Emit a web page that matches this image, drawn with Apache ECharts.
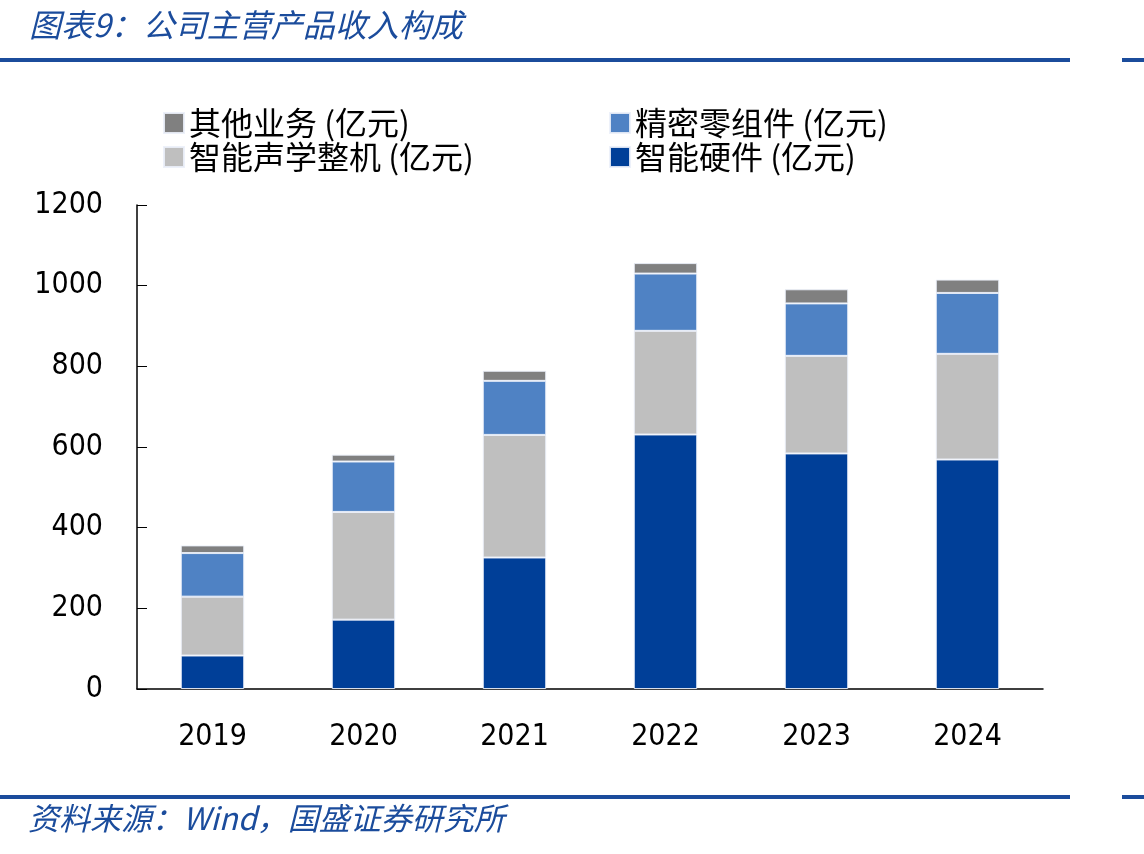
<!DOCTYPE html>
<html>
<head>
<meta charset="utf-8">
<script src="https://cdn.jsdelivr.net/npm/echarts@6/dist/echarts.min.js"></script>
<style>
  html, body { margin: 0; padding: 0; background: #fff; }
  #chart { width: 1144px; height: 854px; }
</style>
</head>
<body>
<div id="chart"></div>
<script>
// 年份
const years = ['2019', '2020', '2021', '2022', '2023', '2024'];
// 各业务收入 (亿元)
const hardware = [83, 172, 326, 631, 584, 569];     // 智能硬件
const acoustics = [146, 267, 304, 257, 242, 262];   // 智能声学整机
const components = [108, 125, 134, 142, 130, 151];  // 精密零组件
const others = [19, 17, 25, 26, 35, 33];            // 其他业务

const names = {
  hardware: '智能硬件 (亿元)',
  acoustics: '智能声学整机 (亿元)',
  components: '精密零组件 (亿元)',
  others: '其他业务 (亿元)'
};

const blue = '#1b4c9c';
const cjk = '"Noto Sans CJK SC", sans-serif';
const num = '"DejaVu Sans Condensed", "Liberation Sans", sans-serif';

const chart = echarts.init(document.getElementById('chart'));

const legendText = { fontSize: 32, color: '#000', fontFamily: cjk };

const barSeries = (name, data, color) => ({
  name,
  type: 'bar',
  stack: 'total',
  barWidth: '42%',
  data,
  itemStyle: { color, borderColor: 'rgba(235,240,250,0.9)', borderWidth: 1 },
  emphasis: { disabled: true }
});

chart.setOption({
  animation: false,
  backgroundColor: '#fff',
  title: {
    text: '图表9：公司主营产品收入构成',
    left: 24,
    top: 4,
    textStyle: {
      fontSize: 32,
      fontStyle: 'italic',
      fontWeight: 'normal',
      color: blue,
      fontFamily: cjk
    }
  },
  graphic: [
    { type: 'rect', shape: { x: 0, y: 58, width: 1070, height: 4 }, style: { fill: blue } },
    { type: 'rect', shape: { x: 1122, y: 58, width: 22, height: 4 }, style: { fill: blue } },
    { type: 'rect', shape: { x: 0, y: 795, width: 1070, height: 4 }, style: { fill: blue } },
    { type: 'rect', shape: { x: 1122, y: 795, width: 22, height: 4 }, style: { fill: blue } },
    {
      type: 'text',
      left: 28,
      top: 803,
      style: {
        text: '资料来源：Wind，国盛证券研究所',
        fontSize: 31,
        fontStyle: 'italic',
        fill: blue,
        fontFamily: cjk
      }
    }
  ],
  legend: [
    {
      left: 158,
      top: 102,
      orient: 'vertical',
      itemWidth: 20,
      itemHeight: 20,
      itemGap: 2,
      icon: 'rect',
      textStyle: legendText,
      data: [names.others, names.acoustics]
    },
    {
      left: 604,
      top: 102,
      orient: 'vertical',
      itemWidth: 20,
      itemHeight: 20,
      itemGap: 2,
      icon: 'rect',
      textStyle: legendText,
      data: [names.components, names.hardware]
    }
  ],
  grid: { left: 137, right: 101, top: 205, bottom: 165 },
  xAxis: {
    type: 'category',
    data: years,
    axisLine: { lineStyle: { color: '#000', width: 1.5 } },
    axisTick: { inside: true, length: 11, lineStyle: { color: '#000' } },
    axisLabel: { fontSize: 30, color: '#000', fontFamily: num, margin: 33 }
  },
  yAxis: {
    type: 'value',
    min: 0,
    max: 1200,
    interval: 200,
    splitLine: { show: false },
    axisLine: { show: true, lineStyle: { color: '#000', width: 1.5 } },
    axisTick: { show: true, inside: true, length: 10, lineStyle: { color: '#000' } },
    axisLabel: {
      fontSize: 30,
      color: '#000',
      fontFamily: num,
      margin: 34,
      formatter: (v) => String(v)
    }
  },
  series: [
    barSeries(names.hardware, hardware, '#003f98'),
    barSeries(names.acoustics, acoustics, '#bfbfbf'),
    barSeries(names.components, components, '#4f82c4'),
    barSeries(names.others, others, '#808080')
  ]
});
</script>
</body>
</html>
